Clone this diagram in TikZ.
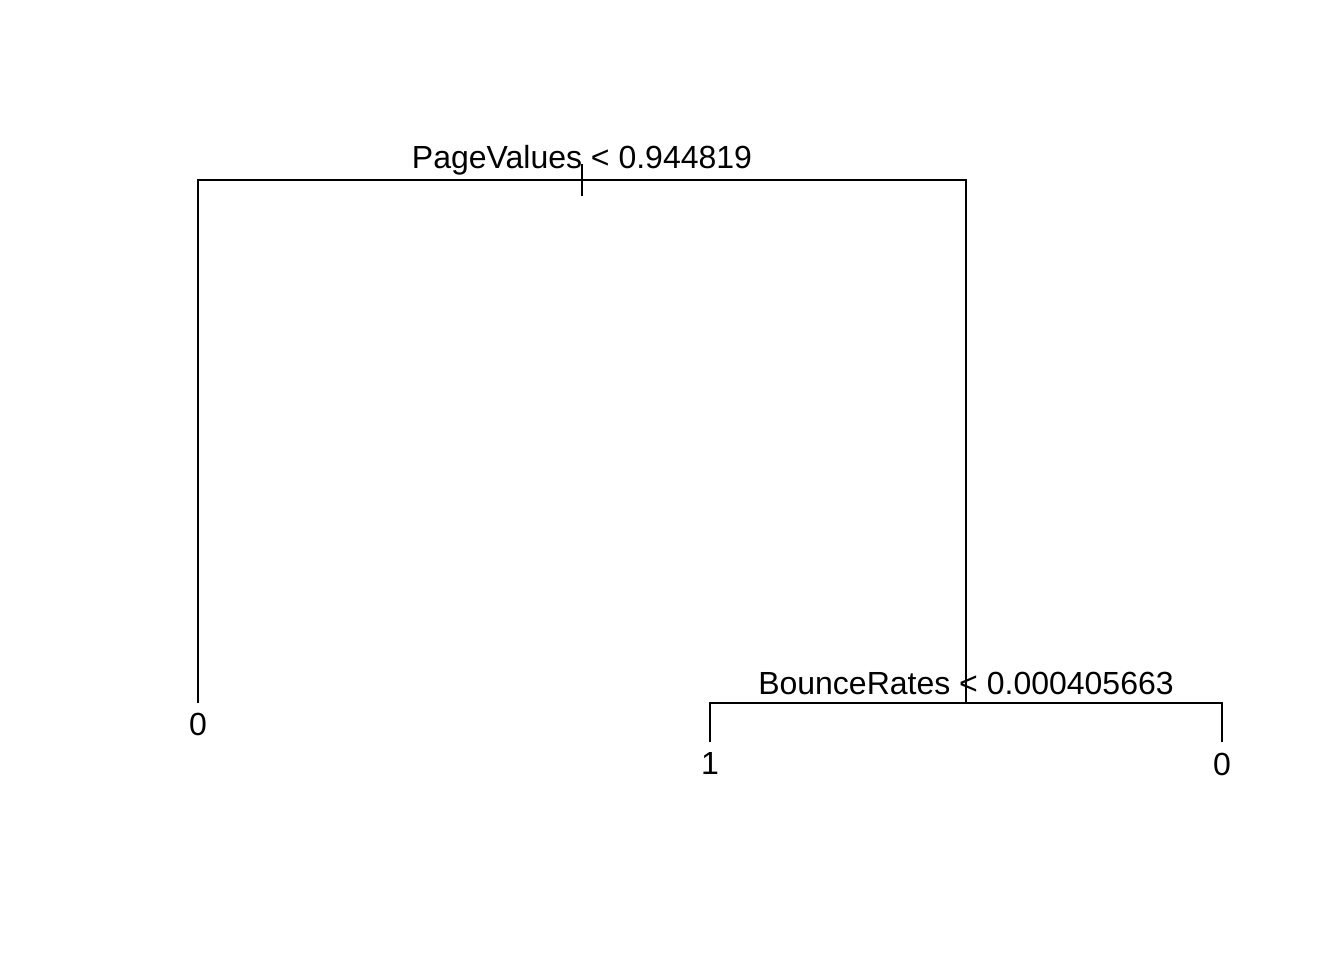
\documentclass[tikz,border=0pt]{standalone}
\usepackage{fontspec}
\setmainfont{Liberation Sans}
\usetikzlibrary{positioning}

\begin{document}
\begin{tikzpicture}[
    x=0.01cm, y=-0.01cm,
    node distance=0.09cm,
    edge/.style={line width=0.6pt, color=black},
    split/.style={inner sep=0pt, anchor=base, font=\fontsize{9.1pt}{10pt}\selectfont},
    leaf/.style={inner sep=0pt, anchor=north, font=\fontsize{9.1pt}{10pt}\selectfont}
]
    \useasboundingbox (0,0) rectangle (1344,960);

    % root split
    \coordinate (root) at (582,180);
    \coordinate (rootTop) at (582,164);
    \coordinate (rootBot) at (582,196);
    \coordinate (rootL) at (198,180);
    \coordinate (rootR) at (966,180);
    \node[split] (pvlabel) at (582,168) {PageValues < 0.944819};

    % second split
    \coordinate (br) at (966,703);
    \coordinate (brL) at (710,703);
    \coordinate (brR) at (1222,703);
    \node[split] (brlabel) at (966,694) {BounceRates < 0.000405663};

    % leaves
    \coordinate (leafAend) at (198,703);
    \coordinate (leafBend) at (710,742);
    \coordinate (leafCend) at (1222,742);
    \node[leaf, below=of leafAend] (leafA) {0};
    \node[leaf, below=0.10cm of leafBend] (leafB) {1};
    \node[leaf, below=0.10cm of leafCend] (leafC) {0};

    \draw[edge] (rootTop) -- (rootBot);
    \draw[edge] (leafAend) -- (rootL) -- (rootR) -- (br);
    \draw[edge] (leafBend) -- (brL) -- (brR) -- (leafCend);
\end{tikzpicture}
\end{document}
